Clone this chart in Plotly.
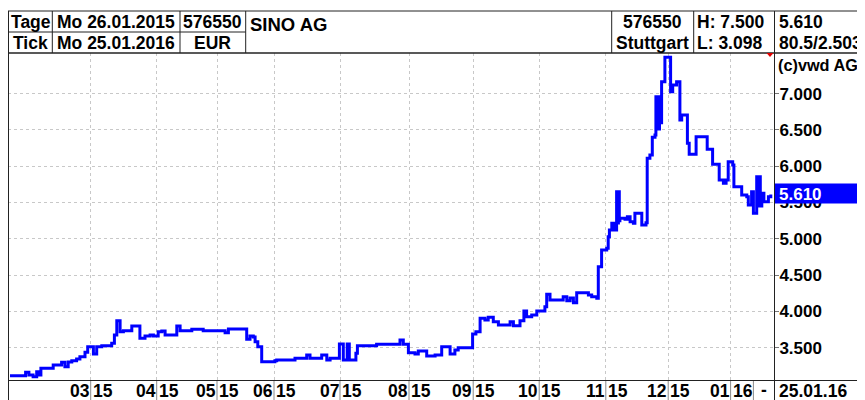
import plotly.graph_objects as go

# ---------------- data ----------------
# trading-day index (0 = Mo 26.01.2015) and closing price in EUR
days = [0, 5.2, 6.3, 7.7, 8.9, 9.4, 10.3, 14.4, 17.2, 18.3, 19.4, 20.6, 22.2, 23.3, 25.0, 25.9,
        27.8, 28.9, 30.6, 33.9, 34.8, 35.6, 36.7, 37.8, 40.6, 43.3, 45.0, 46.7, 47.8, 49.4, 50.6,
        51.7, 55.6, 56.7, 60.6, 64.4, 71.7, 72.8, 78.9, 80.0, 81.1, 81.7, 82.6, 83.9, 88.3, 88.9,
        95.0, 98.9, 100.0, 103.9, 105.6, 106.7, 109.8, 111.1, 112.4, 113.1, 115.3, 115.8, 122.2,
        130.0, 131.1, 132.8, 135.0, 136.1, 138.9, 141.7, 143.9, 146.7, 148.3, 149.4, 154.2, 155.3,
        156.7, 158.3, 159.4, 161.1, 162.8, 166.7, 167.8, 170.0, 171.3, 172.2, 173.9, 175.6, 178.3,
        178.9, 180.0, 184.4, 185.6, 186.7, 187.8, 188.9, 192.8, 193.9, 195.6, 196.1, 197.2, 198.9,
        199.4, 199.8, 200.6, 201.3, 202.2, 202.5, 202.8, 203.1, 203.3, 205.0, 205.8, 206.7, 207.8,
        208.3, 210.6, 212.0, 212.4, 213.3, 214.1, 215.0, 215.3, 215.6, 215.9, 216.2, 216.5, 216.8,
        217.2, 218.3, 220.2, 220.9, 222.2, 223.3, 223.9, 225.8, 226.4, 228.7, 232.4, 234.2, 236.4,
        237.8, 238.7, 239.4, 240.9, 241.3, 243.9, 245.6, 246.1, 247.2, 247.8, 248.9, 249.3, 249.7,
        250.1, 250.6, 251.3, 252.8, 253.6]
prices = [3.114, 3.161, 3.124, 3.101, 3.169, 3.124, 3.216, 3.262, 3.299, 3.238, 3.303, 3.321, 3.344,
          3.376, 3.437, 3.514, 3.413, 3.514, 3.528, 3.561, 3.675, 3.872, 3.720, 3.734, 3.799, 3.629,
          3.661, 3.675, 3.661, 3.720, 3.730, 3.675, 3.799, 3.734, 3.753, 3.734, 3.707, 3.758, 3.616,
          3.661, 3.647, 3.583, 3.514, 3.307, 3.321, 3.331, 3.354, 3.399, 3.354, 3.399, 3.331, 3.354,
          3.551, 3.331, 3.551, 3.331, 3.423, 3.528, 3.547, 3.606, 3.547, 3.431, 3.413, 3.455, 3.386,
          3.399, 3.514, 3.413, 3.468, 3.500, 3.689, 3.720, 3.905, 3.882, 3.919, 3.858, 3.813, 3.858,
          3.803, 3.872, 4.006, 3.927, 3.950, 4.006, 4.065, 4.236, 4.157, 4.202, 4.147, 4.185, 4.120,
          4.258, 4.226, 4.202, 4.180, 4.616, 4.846, 4.869, 5.029, 5.121, 5.213, 5.121, 5.649, 5.218,
          5.649, 5.250, 5.282, 5.269, 5.304, 5.236, 5.213, 5.351, 5.190, 5.222, 6.109, 6.154, 6.398,
          6.430, 6.957, 6.512, 6.957, 6.512, 6.957, 6.600, 7.164, 7.500, 7.026, 7.118, 7.164, 6.636,
          6.705, 6.315, 6.164, 6.406, 6.233, 6.026, 5.810, 5.764, 5.810, 6.062, 6.017, 5.718, 5.603,
          5.580, 5.466, 5.649, 5.351, 5.855, 5.452, 5.855, 5.452, 5.627, 5.511, 5.580, 5.610]

month_pos = [26.9, 48.9, 69.0, 88.0, 110.0, 133.0, 154.4, 176.4, 198.6, 219.4, 240.2]
month_lbl = ["03", "04", "05", "06", "07", "08", "09", "10", "11", "12", "01"]
year_lbl = ["15", "15", "15", "15", "15", "15", "15", "15", "15", "15", "16"]
end_divider = 247.8

y_ticks = [3.5, 4.0, 4.5, 5.0, 5.5, 6.0, 6.5, 7.0]
y_labels = ["3.500", "4.000", "4.500", "5.000", "5.500", "6.000", "6.500", "7.000"]
last_price_label = "5.610"

header_left = [("Tage", "Mo 26.01.2015", "576550"), ("Tick", "Mo 25.01.2016", "EUR")]
title_text = "SINO AG"
header_right = [("576550", "H: 7.500", "5.610"), ("Stuttgart", "L: 3.098", "80.5/2.503")]
copyright_text = "(c)vwd AG"
end_date_label = "25.01.16"

# ---------------- layout geometry ----------------
# the page body adds an 8px offset, so the figure is drawn 8px smaller and shifted
OFF = 8
W, H = 865 - OFF, 400 - OFF
# plot area in window pixels
PL, PR, PT, PB = 8, 774, 53, 380


def X(px):
    return (px - PL) / (PR - PL)


def Y(py):
    return (PB - py) / (PB - PT)


FONT = "Liberation Sans, Arial, sans-serif"

fig = go.Figure()
fig.add_trace(go.Scatter(x=days, y=prices, mode="lines",
                         line=dict(color="#0000ff", width=3, shape="hv"),
                         hoverinfo="skip"))

shapes = []


def hline(py, x0, x1, color="#222222", width=1):
    shapes.append(dict(type="line", xref="paper", yref="paper", x0=X(x0), x1=X(x1),
                       y0=Y(py), y1=Y(py), line=dict(color=color, width=width), layer="above"))


def vline(px, y0, y1, color="#222222", width=1):
    shapes.append(dict(type="line", xref="paper", yref="paper", x0=X(px), x1=X(px),
                       y0=Y(y0), y1=Y(y1), line=dict(color=color, width=width), layer="above"))


hline(11, 8, 865)
hline(32, 8, 245.7)
hline(53, 8, 865, width=1.5)
hline(380.5, 8, 865)
vline(8.5, 11, 400)
vline(774.5, 11, 400)
for px in [52.3, 180, 245.7, 611.7, 693.7]:
    vline(px, 11, 53)
# separators in the date label row
for pos in month_pos + [end_divider]:
    shapes.append(dict(type="line", xref="x", yref="paper", x0=pos, x1=pos,
                       y0=Y(400), y1=Y(381), line=dict(color="#8a8a8a", width=1), layer="above"))
# current price box
shapes.append(dict(type="rect", xref="paper", yref="paper", x0=X(775), x1=X(865),
                   y0=Y(203.5), y1=Y(183.5), fillcolor="#0000ff", line=dict(width=0), layer="above"))
# small red marker at top right
shapes.append(dict(type="path", xref="paper", yref="paper",
                   path=f"M {X(766.5)} {Y(53)} L {X(773.5)} {Y(53)} L {X(770)} {Y(57)} Z",
                   fillcolor="#e00000", line=dict(width=0), layer="above"))

ann = []


def txt(s, px, py, anchor="center", color="black", size=17.5, xref="paper", x=None,
        xshift=0, pad=1):
    ann.append(dict(text=s, xref=xref, yref="paper",
                    x=X(px) if x is None else x, y=Y(py),
                    xanchor=anchor, yanchor="middle", showarrow=False, xshift=xshift,
                    borderpad=pad,
                    font=dict(family=FONT, size=size, color=color, weight="bold")))


rows_y = [22, 42.5]
for (a, b, c), yy in zip(header_left, rows_y):
    txt(a, 30.7, yy)
    txt(b, 116.2, yy)
    txt(c, 212.9, yy)
txt(title_text, 248, 24, anchor="left", size=18.5)
for (a, b, c), yy in zip(header_right, rows_y):
    txt(a, 652.7, yy)
    txt(b, 695, yy, anchor="left")
    txt(c, 777, yy, anchor="left")
txt(copyright_text, 776, 65, anchor="left", size=16.3)
txt(last_price_label, 777, 194, anchor="left", color="white", size=17)

for pos, m, yr in zip(month_pos, month_lbl, year_lbl):
    txt(m, 0, 391, anchor="right", xref="x", x=pos, xshift=0, pad=0)
    txt(yr, 0, 391, anchor="left", xref="x", x=pos, xshift=1, pad=0)
txt("-", 763.5, 390)
txt(end_date_label, 777, 391, anchor="left")

x0 = (PL - 10) / 3.0
x1 = (PR - 10) / 3.0
v_per_px = 0.5 / 36.3
y_lo = 3.5 - (PB - 347.7) * v_per_px
y_hi = 3.5 + (347.7 - PT) * v_per_px

fig.update_layout(
    width=W, height=H,
    margin=dict(l=PL - OFF, r=865 - PR, t=PT - OFF, b=400 - PB, pad=0),
    paper_bgcolor="white", plot_bgcolor="white",
    showlegend=False,
    shapes=shapes, annotations=ann,
    xaxis=dict(range=[x0, x1], tickvals=month_pos, showticklabels=False,
               showgrid=True, gridcolor="#c8c8c8", griddash="3px,3px", gridwidth=1,
               ticks="", zeroline=False, showline=False, fixedrange=True),
    yaxis=dict(side="right", range=[y_lo, y_hi], tickvals=y_ticks, ticktext=y_labels,
               showgrid=True, gridcolor="#c8c8c8", griddash="3px,3px", gridwidth=1,
               ticks="outside", ticklen=4, tickcolor="#777777", ticklabelstandoff=-3,
               tickfont=dict(family=FONT, size=17, color="black", weight="bold"),
               zeroline=False, showline=False, fixedrange=True),
)

fig.write_html("out.html")
